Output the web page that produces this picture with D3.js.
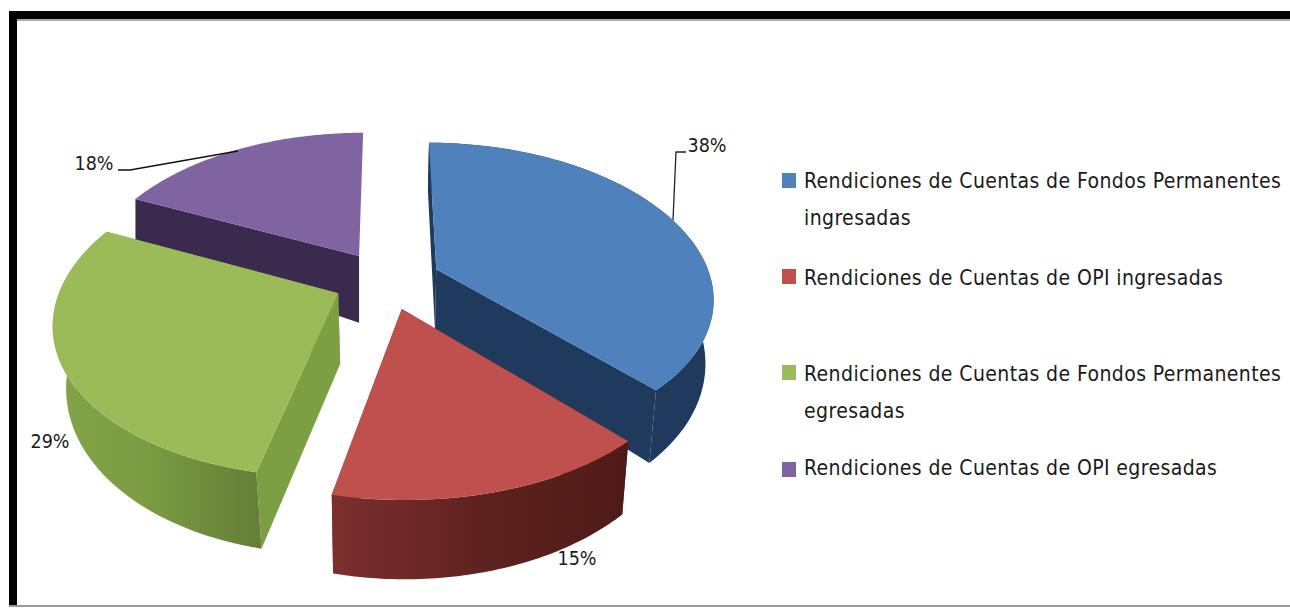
<!DOCTYPE html>
<html><head><meta charset="utf-8">
<script src="https://cdn.jsdelivr.net/npm/d3@7"></script>
<style>html,body{margin:0;padding:0;background:#fff}svg{display:block}text{font-family:"DejaVu Sans Condensed","DejaVu Sans";font-stretch:condensed;fill:#1a1a1a}</style>
</head><body><div id="chart"></div>
<script>
const categories=["Rendiciones de Cuentas de Fondos Permanentes ingresadas","Rendiciones de Cuentas de OPI ingresadas","Rendiciones de Cuentas de Fondos Permanentes egresadas","Rendiciones de Cuentas de OPI egresadas"];
const legendLines=[["Rendiciones de Cuentas de Fondos Permanentes","ingresadas"],["Rendiciones de Cuentas de OPI ingresadas"],["Rendiciones de Cuentas de Fondos Permanentes","egresadas"],["Rendiciones de Cuentas de OPI egresadas"]];
const values=[38,15.4,28.6,18];
const labels=["38%","15%","29%","18%"];
const topColors=["#4f81bd","#c0504d","#9bbb59","#8064a2"];
const wallColors=["#1f3a5c","#6e2827","#7d9f43","#3a2a4d"];
const rimStops=[[["0","#1f3a5c"],["1","#1f3a5c"]],[["0","#7c2f2f"],["0.5","#5f2220"],["1","#4e1a17"]],[["0","#83a548"],["0.45","#7b9c42"],["1","#657f38"]],[["0","#3a2a4d"],["1","#3a2a4d"]]];
const W=1290,H=608;
const svg=d3.select("#chart").append("svg").attr("width",W).attr("height",H);
// frame
svg.append("rect").attr("x",9).attr("y",11).attr("width",W-9).attr("height",8).attr("fill","#000");
svg.append("rect").attr("x",9).attr("y",11).attr("width",8).attr("height",595).attr("fill","#000");
svg.append("rect").attr("x",17).attr("y",19).attr("width",W-17).attr("height",2).attr("fill","#aaa");
svg.append("rect").attr("x",9).attr("y",605).attr("width",W-9).attr("height",2).attr("fill","#999");
// 3D projection of the pie plane
const X0=387,Y0=280,RX=275,Q=150,K=0.16,KX=0.175,EXPLODE=0.195;
const sink=[0.975,0.975,0.96,1],depthScale=[1.12,1.05,1.05,1],apexExtra=[0,0,12,14];
const endWall=[true,true,true,false],rimWall=[true,true,true,false];
const scale=b=>1/(1+K*b);
const scaleX=b=>1/(1+KX*b);
const proj=(u,b)=>[X0+RX*u*scaleX(b),Y0-Q*b*scale(b)];
const pie=d3.pie().sort(null).startAngle(0).endAngle(2*Math.PI);
const arcs=pie(values);
const line=d3.line();
const defs=svg.append("defs");
const order=[3,0,2,1];
order.forEach(i=>{
  const a=arcs[i],mid=(a.startAngle+a.endAngle)/2;
  const ou=EXPLODE*Math.sin(mid),ob=EXPLODE*Math.cos(mid);
  const drop=(p,b,extra=0)=>[X0+(p[0]-X0)*sink[i],p[1]+55*depthScale[i]*Math.pow(scale(b),1.5)+extra];
  const at=(r,t)=>{const u=ou+r*Math.sin(t),b=ob+r*Math.cos(t);return {p:proj(u,b),b};};
  const n=60;
  const rim=d3.range(n+1).map(k=>at(1,a.startAngle+(a.endAngle-a.startAngle)*k/n));
  const apex=at(0,0);
  const rimTop=rim.map(d=>d.p),rimBot=rim.map(d=>drop(d.p,d.b));
  const apexBot=drop(apex.p,apex.b,apexExtra[i]);
  const g=svg.append("g").attr("class","slice");
  const xs=rimTop.map(d=>d[0]);
  const gid="rim"+i;
  const lg=defs.append("linearGradient").attr("id",gid).attr("gradientUnits","userSpaceOnUse")
    .attr("x1",d3.min(xs)).attr("x2",d3.max(xs)).attr("y1",0).attr("y2",0);
  rimStops[i].forEach(s=>lg.append("stop").attr("offset",s[0]).attr("stop-color",s[1]));
  g.append("path").attr("d",line([apex.p,rimTop[0],rimBot[0],apexBot])+"Z").attr("fill",wallColors[i]);
  if(endWall[i]) g.append("path").attr("d",line([apex.p,rimTop[n],rimBot[n],apexBot])+"Z").attr("fill",wallColors[i]);
  if(rimWall[i]) g.append("path").attr("d",line(rimTop.concat(rimBot.slice().reverse()))+"Z").attr("fill",`url(#${gid})`);
  g.append("path").attr("d",line([apex.p].concat(rimTop))+"Z").attr("fill",topColors[i]);
});
// leader lines
const lead=d3.line();
svg.append("path").attr("d",lead([[118,170],[130,170],[238,151]])).attr("fill","none").attr("stroke","#111").attr("stroke-width",1.3);
svg.append("path").attr("d",lead([[686,152],[676,152],[673,220]])).attr("fill","none").attr("stroke","#222").attr("stroke-width",1.3);
// data labels
const labelPos=[[707,152],[577,565],[50,448],[94,170]];
labels.forEach((t,i)=>svg.append("text").attr("x",labelPos[i][0]).attr("y",labelPos[i][1]).attr("text-anchor","middle").attr("font-size",19.5).text(t));
// legend
const legendY=[188,285,381,475];
const swatchY=[173,269,365,462];
categories.forEach((c,i)=>{
  svg.append("rect").attr("x",782).attr("y",swatchY[i]).attr("width",14).attr("height",15).attr("fill",topColors[i]);
  legendLines[i].forEach((t,j)=>svg.append("text").attr("x",804).attr("y",legendY[i]+j*37).attr("font-size",21).attr("letter-spacing",0.4).text(t));
});
</script></body></html>
